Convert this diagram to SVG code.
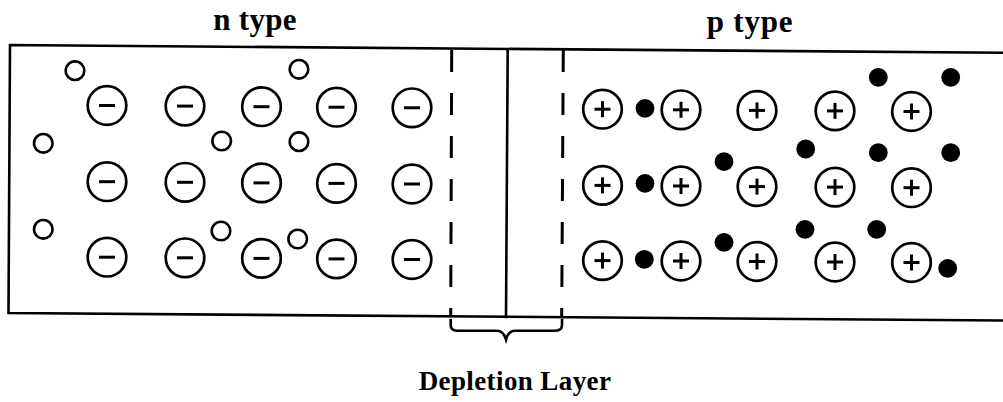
<svg xmlns="http://www.w3.org/2000/svg" xmlns:xlink="http://www.w3.org/1999/xlink" width="1003" height="402" viewBox="0 0 1003 402">
  <style>
    .frame { fill: none; stroke: #000; stroke-width: 2.6; stroke-linecap: square; }
    .dash { fill: none; stroke: #000; stroke-width: 3; stroke-dasharray: 22 21; }
    .ion { fill: #fff; stroke: #000; stroke-width: 2.7; }
    .sign { stroke: #000; stroke-width: 3; stroke-linecap: butt; }
    .free { fill: #fff; stroke: #000; stroke-width: 2.6; }
    .hole { fill: #000; }
    .title { font-family: "Liberation Serif", "Times New Roman", serif; font-weight: bold; fill: #000; text-anchor: middle; }
  </style>
  <defs>
    <!-- fixed donor ion (negative sign as drawn) -->
    <g id="neg">
      <circle class="ion" r="19.3"/>
      <line class="sign" x1="-8" y1="0" x2="8" y2="0"/>
    </g>
    <!-- fixed acceptor ion -->
    <g id="pos">
      <circle class="ion" r="19.3"/>
      <line class="sign" x1="-8" y1="0" x2="8" y2="0"/>
      <line class="sign" x1="0" y1="-8" x2="0" y2="8"/>
    </g>
    <circle id="open" class="free" r="9.3"/>
    <circle id="dot" class="hole" r="9.4"/>
  </defs>

  <rect width="1003" height="402" fill="#fff"/>

  <!-- titles -->
  <text class="title" x="255" y="29.5" font-size="31" letter-spacing="0.3">n type</text>
  <text class="title" x="750" y="31.5" font-size="31" letter-spacing="0.8">p type</text>

  <!-- crystal outline, open on the right -->
  <g id="crystal">
    <polyline class="frame" points="1003,52.8 10,45 8.5,313 1003,320.5"/>
    <line class="frame" x1="507.7" y1="50" x2="506" y2="317"/>
  </g>

  <!-- depletion layer bounds and brace -->
  <g id="connectors">
    <line class="dash" x1="451.7" y1="50" x2="450.7" y2="317"/>
    <line class="dash" x1="563.3" y1="50" x2="561.7" y2="317"/>
    <path class="frame" stroke-linecap="round" stroke-width="2.3" d="M450.7,320 L450.7,325 Q450.7,330.7 457,330.7 L497,330.7 Q503.5,330.7 506,339.5 Q508.5,330.7 515,330.7 L555.5,330.7 Q562,330.7 562,325 L562,320"/>
  </g>

  <!-- n region -->
  <g id="n-region">
    <use xlink:href="#neg" x="107" y="105.5"/>
    <use xlink:href="#neg" x="185" y="106.1"/>
    <use xlink:href="#neg" x="261.5" y="106.7"/>
    <use xlink:href="#neg" x="336.5" y="107.2"/>
    <use xlink:href="#neg" x="412" y="107.8"/>
    <use xlink:href="#neg" x="107" y="181.7"/>
    <use xlink:href="#neg" x="185" y="182.3"/>
    <use xlink:href="#neg" x="261.5" y="182.9"/>
    <use xlink:href="#neg" x="336.5" y="183.4"/>
    <use xlink:href="#neg" x="412" y="184"/>
    <use xlink:href="#neg" x="107" y="257.2"/>
    <use xlink:href="#neg" x="185" y="257.8"/>
    <use xlink:href="#neg" x="261.5" y="258.4"/>
    <use xlink:href="#neg" x="336.5" y="258.9"/>
    <use xlink:href="#neg" x="412" y="259.5"/>

    <use xlink:href="#open" x="75" y="70.7"/>
    <use xlink:href="#open" x="299" y="69.3"/>
    <use xlink:href="#open" x="43.3" y="143.3"/>
    <use xlink:href="#open" x="221.7" y="141"/>
    <use xlink:href="#open" x="299" y="141.7"/>
    <use xlink:href="#open" x="43.3" y="229.3"/>
    <use xlink:href="#open" x="221" y="231"/>
    <use xlink:href="#open" x="297.7" y="239"/>
  </g>

  <!-- p region -->
  <g id="p-region">
    <use xlink:href="#pos" x="602.5" y="109.2"/>
    <use xlink:href="#pos" x="681" y="109.8"/>
    <use xlink:href="#pos" x="757" y="110.4"/>
    <use xlink:href="#pos" x="835" y="110.9"/>
    <use xlink:href="#pos" x="911.5" y="111.5"/>
    <use xlink:href="#pos" x="602.5" y="185.4"/>
    <use xlink:href="#pos" x="681" y="186"/>
    <use xlink:href="#pos" x="757" y="186.6"/>
    <use xlink:href="#pos" x="835" y="187.1"/>
    <use xlink:href="#pos" x="911.5" y="187.7"/>
    <use xlink:href="#pos" x="602.5" y="260.6"/>
    <use xlink:href="#pos" x="681" y="261"/>
    <use xlink:href="#pos" x="757" y="261.5"/>
    <use xlink:href="#pos" x="835" y="262"/>
    <use xlink:href="#pos" x="911.5" y="262.5"/>

    <use xlink:href="#dot" x="645" y="108.3"/>
    <use xlink:href="#dot" x="878.3" y="77.3"/>
    <use xlink:href="#dot" x="950.7" y="77.3"/>
    <use xlink:href="#dot" x="805.7" y="149"/>
    <use xlink:href="#dot" x="878.3" y="152.7"/>
    <use xlink:href="#dot" x="950.7" y="152.7"/>
    <use xlink:href="#dot" x="724" y="161.7"/>
    <use xlink:href="#dot" x="645" y="183.3"/>
    <use xlink:href="#dot" x="644.3" y="259.3"/>
    <use xlink:href="#dot" x="724" y="242.3"/>
    <use xlink:href="#dot" x="805" y="229.3"/>
    <use xlink:href="#dot" x="876.7" y="229.3"/>
    <use xlink:href="#dot" x="947.7" y="268.3"/>
  </g>

  <text class="title" x="515" y="390" font-size="27" letter-spacing="0.4">Depletion Layer</text>
</svg>
